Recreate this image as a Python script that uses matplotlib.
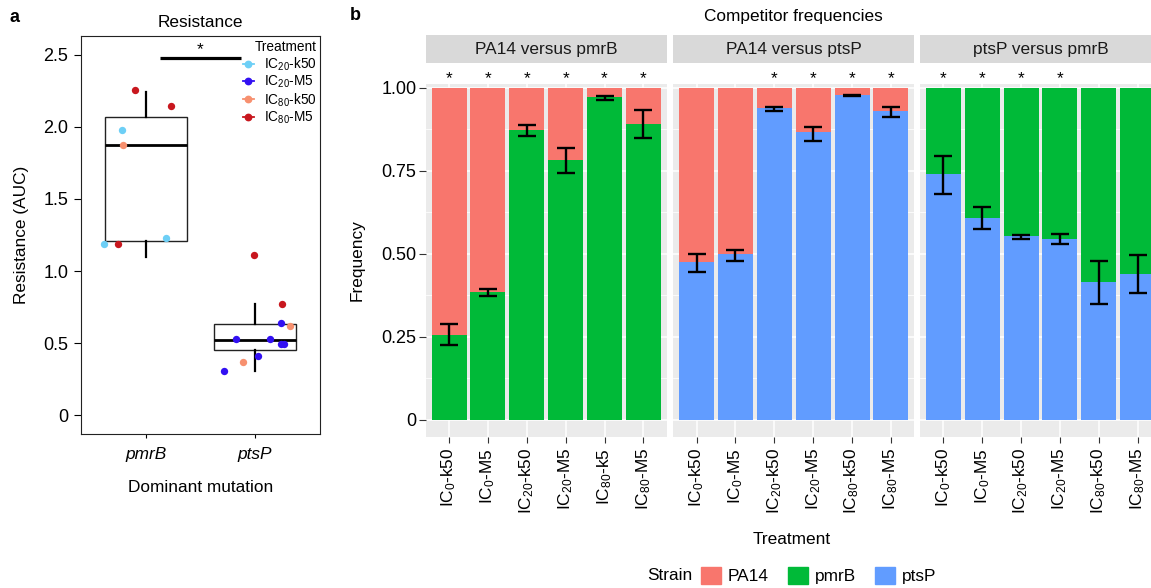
import matplotlib
matplotlib.use("Agg")
import matplotlib.pyplot as plt
from matplotlib.patches import Patch
from matplotlib.lines import Line2D

plt.rcParams["font.family"] = ["Liberation Sans", "DejaVu Sans"]
plt.rcParams["mathtext.fontset"] = "custom"
plt.rcParams["mathtext.rm"] = "Liberation Sans"
plt.rcParams["mathtext.it"] = "Liberation Sans:italic"
plt.rcParams["mathtext.default"] = "rm"

# ---------------- panel a: resistance by dominant mutation ----------------
mutations = ["pmrB", "ptsP"]
treatments = ["IC$_{20}$-k50", "IC$_{20}$-M5", "IC$_{80}$-k50", "IC$_{80}$-M5"]
treatment_colors = ["#6DCFF6", "#3210F2", "#F7906F", "#C8171E"]

# individual populations (group index, horizontal jitter, AUC, treatment index)
pt_group = [0, 0, 0, 0, 0, 0, 0,
            1, 1, 1, 1, 1, 1, 1, 1, 1, 1, 1]
pt_jitter = [-0.101, 0.230, -0.218, -0.208, -0.383, -0.257, 0.187,
             -0.007, 0.253, 0.238, 0.324, -0.173, 0.140, 0.241, 0.266, 0.030, -0.111, -0.283]
pt_auc = [2.255, 2.148, 1.979, 1.875, 1.185, 1.185, 1.227,
          1.113, 0.771, 0.641, 0.620, 0.528, 0.528, 0.493, 0.493, 0.412, 0.366, 0.308]
pt_treatment = [3, 3, 0, 2, 0, 3, 0,
                3, 3, 1, 2, 1, 1, 1, 1, 1, 2, 1]

# box summaries per mutation
box_whislo = [1.097, 0.308]
box_q1 = [1.208, 0.454]
box_med = [1.875, 0.523]
box_q3 = [2.067, 0.630]
box_whishi = [2.240, 0.769]

# ---------------- panel b: competitor frequencies ----------------
comparisons = ["PA14 versus pmrB", "PA14 versus ptsP", "ptsP versus pmrB"]
bottom_strain = ["pmrB", "ptsP", "ptsP"]
top_strain = ["PA14", "PA14", "pmrB"]
strains = ["PA14", "pmrB", "ptsP"]
strain_colors = {"PA14": "#F8766D", "pmrB": "#00BA38", "ptsP": "#619CFF"}

labels_pa14_pmrb = ["IC$_{0}$-k50", "IC$_{0}$-M5", "IC$_{20}$-k50",
                    "IC$_{20}$-M5", "IC$_{80}$-k5", "IC$_{80}$-M5"]
labels_other = ["IC$_{0}$-k50", "IC$_{0}$-M5", "IC$_{20}$-k50",
                "IC$_{20}$-M5", "IC$_{80}$-k50", "IC$_{80}$-M5"]
facet_labels = [labels_pa14_pmrb, labels_other, labels_other]

# frequency of the bottom strain in each treatment
freq_bottom = [
    [0.256, 0.386, 0.873, 0.783, 0.973, 0.892],
    [0.477, 0.500, 0.941, 0.868, 0.978, 0.931],
    [0.742, 0.608, 0.554, 0.545, 0.416, 0.441],
]
err_low = [
    [0.226, 0.372, 0.856, 0.745, 0.964, 0.850],
    [0.446, 0.480, 0.931, 0.840, 0.977, 0.914],
    [0.682, 0.576, 0.545, 0.530, 0.349, 0.383],
]
err_high = [
    [0.290, 0.395, 0.889, 0.820, 0.977, 0.935],
    [0.500, 0.513, 0.944, 0.883, 0.980, 0.943],
    [0.796, 0.640, 0.556, 0.561, 0.480, 0.497],
]
significant = [
    [1, 1, 1, 1, 1, 1],
    [0, 0, 1, 1, 1, 1],
    [1, 1, 1, 1, 0, 0],
]

W, H = 1151, 588
fig = plt.figure(figsize=(W / 100, H / 100), dpi=100)


def px_axes(left, top, right, bottom, **kw):
    return fig.add_axes([left / W, 1 - bottom / H, (right - left) / W, (bottom - top) / H], **kw)


def fig_text(x, y, s, **kw):
    return fig.text(x / W, 1 - y / H, s, **kw)


FS = 12.4      # titles, labels, strips
TFS = 13.0     # numeric tick labels

# ---------------- draw panel a ----------------
axa = px_axes(80.7, 35.7, 320.0, 434.3)
axa.set_xlim(0.4, 2.6)
axa.set_ylim(-0.134, 2.634)
stats = []
for i in range(len(mutations)):
    stats.append(dict(whislo=box_whislo[i], q1=box_q1[i], med=box_med[i],
                      q3=box_q3[i], whishi=box_whishi[i], fliers=[]))
axa.bxp(stats, positions=[1, 2], widths=0.75, showcaps=False, patch_artist=True,
        boxprops=dict(facecolor="white", edgecolor="#222222", linewidth=1.0),
        medianprops=dict(color="black", linewidth=2.0),
        whiskerprops=dict(color="black", linewidth=1.6))
for g, j, v, t in zip(pt_group, pt_jitter, pt_auc, pt_treatment):
    axa.scatter(g + 1 + j, v, s=28, color=treatment_colors[t], zorder=5, linewidths=0)

# significance bar between groups
axa.plot([1.125, 1.875], [2.476, 2.476], color="black", lw=2.3, solid_capstyle="butt")
axa.text(1.5, 2.54, "*", ha="center", va="center", fontsize=FS)

axa.set_xticks([1, 2])
axa.set_xticklabels(mutations, fontstyle="italic", fontsize=FS)
axa.set_yticks([0, 0.5, 1.0, 1.5, 2.0, 2.5])
axa.set_yticklabels(["0", "0.5", "1.0", "1.5", "2.0", "2.5"], fontsize=TFS)
axa.tick_params(axis="y", length=4.8, width=0.8, pad=4, colors="black")
axa.tick_params(axis="x", length=3, width=0.8, pad=6, colors="black")
for sp in axa.spines.values():
    sp.set_linewidth(0.8)
    sp.set_color("#222222")
axa.set_title("Resistance", fontsize=FS, pad=6)
fig_text(22, 235, "Resistance (AUC)", fontsize=FS, rotation=90, ha="center", va="center")
fig_text(200.4, 487.5, "Dominant mutation", fontsize=FS, ha="center", va="center")

handles = [Line2D([0], [0], color=c, marker="o", markersize=4.6, lw=1.3) for c in treatment_colors]
leg = axa.legend(handles, treatments, title="Treatment", loc="upper left",
                 bbox_to_anchor=(0.678, 0.988), frameon=False, fontsize=9.8,
                 title_fontsize=9.8, handlelength=0.8, handletextpad=0.75,
                 labelspacing=0.07, borderaxespad=0.0, borderpad=0.0)
leg._legend_box.align = "right"

fig_text(10, 18, "a", fontsize=13, fontweight="bold", va="center", ha="left")

# ---------------- draw panel b ----------------
panel_x = [(425.7, 666.7), (673.3, 914.3), (920.0, 1161.0)]
panel_top, panel_bottom = 84.0, 436.5
strip_top, strip_bottom = 34.7, 62.7
positions = [1, 2, 3, 4, 5, 6]

for k, (x0, x1) in enumerate(panel_x):
    ax = px_axes(x0, panel_top, x1, panel_bottom)
    ax.set_facecolor("#EBEBEB")
    ax.set_xlim(0.4, 6.6)
    ax.set_ylim(-0.05, 1.012)
    for sp in ax.spines.values():
        sp.set_visible(False)
    ax.set_yticks([0, 0.25, 0.5, 0.75, 1.0])
    ax.set_yticks([0.125, 0.375, 0.625, 0.875], minor=True)
    ax.set_xticks(positions)
    ax.grid(which="major", color="white", lw=1.1)
    ax.grid(which="minor", axis="y", color="white", lw=0.55)
    ax.set_axisbelow(True)
    ax.tick_params(which="minor", length=0)

    bot = freq_bottom[k]
    top = [1 - v for v in bot]
    ax.bar(positions, bot, width=0.9, color=strain_colors[bottom_strain[k]], zorder=2)
    ax.bar(positions, top, bottom=bot, width=0.9, color=strain_colors[top_strain[k]], zorder=2)
    mids = [(lo + hi) / 2 for lo, hi in zip(err_low[k], err_high[k])]
    half = [(hi - lo) / 2 for lo, hi in zip(err_low[k], err_high[k])]
    ax.errorbar(positions, mids, yerr=half, fmt="none", ecolor="black",
                elinewidth=1.7, capsize=6.8, capthick=1.7, zorder=3)
    for p, s in zip(positions, significant[k]):
        if s:
            ax.text(p, 1.027, "*", ha="center", va="center", fontsize=FS, clip_on=False)

    ax.set_xticklabels(facet_labels[k], rotation=90, fontsize=FS)
    ax.tick_params(axis="x", which="major", length=4.3, width=0.8, color="#333333", pad=4)
    if k == 0:
        ax.set_yticklabels(["0", "0.25", "0.50", "0.75", "1.00"], fontsize=TFS)
        ax.tick_params(axis="y", which="major", length=5, width=0.8, color="#333333", pad=1.8)
    else:
        ax.tick_params(axis="y", which="major", length=0, labelleft=False)

    sax = px_axes(x0, strip_top, x1, strip_bottom)
    sax.set_facecolor("#D9D9D9")
    sax.set_xticks([])
    sax.set_yticks([])
    for sp in sax.spines.values():
        sp.set_visible(False)
    sax.text(0.5, 0.48, comparisons[k], ha="center", va="center", fontsize=FS,
             color="#1A1A1A", transform=sax.transAxes)

fig_text(350, 16, "b", fontsize=13, fontweight="bold", va="center", ha="left")
fig_text(793, 16, "Competitor frequencies", fontsize=FS, ha="center", va="center")
fig_text(357, 260, "Frequency", fontsize=FS, ha="center", va="center", rotation=90)
fig_text(792, 540, "Treatment", fontsize=FS, ha="center", va="center")

# strain legend
fig_text(647, 576, "Strain", fontsize=FS, ha="left", va="center")
strain_handles = [Patch(color=strain_colors[s]) for s in strains]
fig.legend(strain_handles, strains, ncol=3, frameon=False,
           loc="center left", bbox_to_anchor=(701 / W, 1 - 575.5 / H), fontsize=FS,
           handlelength=1.16, handleheight=1.2, handletextpad=0.39,
           columnspacing=1.13, borderaxespad=0, borderpad=0)

fig.savefig("out.png", dpi=100)
